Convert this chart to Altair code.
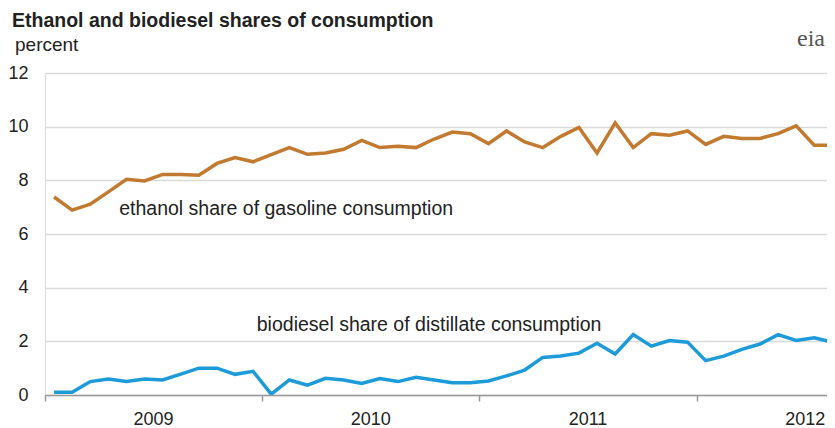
import altair as alt
import pandas as pd

# Monthly data, Jan 2009 - Aug 2012
months = pd.date_range("2009-01-01", periods=44, freq="MS").strftime("%Y-%m").tolist()

ethanol = [7.38, 6.89, 7.11, 7.57, 8.04, 7.98, 8.22, 8.22, 8.19, 8.63, 8.85, 8.69,
           8.96, 9.22, 8.97, 9.02, 9.16, 9.49, 9.22, 9.27, 9.22, 9.54, 9.80, 9.74,
           9.37, 9.84, 9.43, 9.22, 9.64, 9.97, 9.02, 10.14, 9.22, 9.74, 9.68, 9.84,
           9.34, 9.64, 9.56, 9.56, 9.74, 10.03, 9.31, 9.31]

biodiesel = [0.10, 0.10, 0.50, 0.60, 0.50, 0.60, 0.56, 0.78, 1.00, 1.00, 0.77, 0.88,
             0.03, 0.56, 0.37, 0.62, 0.56, 0.43, 0.61, 0.50, 0.66, 0.56, 0.46, 0.46,
             0.52, 0.71, 0.93, 1.40, 1.45, 1.56, 1.93, 1.53, 2.25, 1.82, 2.03, 1.97,
             1.28, 1.45, 1.70, 1.90, 2.25, 2.03, 2.13, 1.97]

years = ["2009", "2010", "2011", "2012"]
y_ticks = [0, 2, 4, 6, 8, 10, 12]

title_text = "Ethanol and biodiesel shares of consumption"
unit_text = "percent"
label_ethanol = "ethanol share  of gasoline consumption"
label_biodiesel = "biodiesel share of distillate consumption"

ETH_COLOR = "#C27A31"
BIO_COLOR = "#1C9BD8"
TEXT_COLOR = "#222222"
FONT = "Liberation Sans"

W = 782
H = 322
PX_PER_MONTH = 18.1

rows = []
for i, m in enumerate(months):
    rows.append({"month": m, "t": i + 0.5, "v": ethanol[i], "series": "ethanol"})
    rows.append({"month": m, "t": i + 0.5, "v": biodiesel[i], "series": "biodiesel"})
df = pd.DataFrame(rows)

x_scale = alt.Scale(domain=[0, W / PX_PER_MONTH], nice=False, zero=False)
y_scale = alt.Scale(domain=[0, 12], nice=False)

base = alt.Chart(df)

lines = base.mark_line(strokeWidth=3.5, clip=True, strokeJoin="miter").encode(
    x=alt.X("t:Q", scale=x_scale,
            axis=alt.Axis(values=[0, 12, 24, 36], labels=False, ticks=True, tickSize=6,
                          tickColor="#999999", domainColor="#999999", domainWidth=1.5,
                          tickWidth=1.5, grid=False, title=None)),
    y=alt.Y("v:Q", scale=y_scale,
            axis=alt.Axis(values=y_ticks, grid=True, gridColor="#DADADA", gridWidth=1.5,
                          domain=False, ticks=False, labelPadding=17, labelFontSize=18,
                          labelColor=TEXT_COLOR, labelFont=FONT, title=None)),
    color=alt.Color("series:N",
                    scale=alt.Scale(domain=["ethanol", "biodiesel"], range=[ETH_COLOR, BIO_COLOR]),
                    legend=None),
)

year_df = pd.DataFrame({"t": [6, 18, 30, 42], "label": years})
year_text = alt.Chart(year_df).mark_text(
    fontSize=18, font=FONT, color=TEXT_COLOR, baseline="middle", align="center"
).encode(x=alt.X("t:Q", scale=x_scale), y=alt.value(H + 25), text="label:N")

ann_df = pd.DataFrame({
    "t": [4.1, 11.7],
    "v": [6.95, 2.6],
    "label": [label_ethanol, label_biodiesel],
})
ann = alt.Chart(ann_df).mark_text(
    fontSize=19.5, font=FONT, color=TEXT_COLOR, baseline="middle", align="left"
).encode(x=alt.X("t:Q", scale=x_scale), y=alt.Y("v:Q", scale=y_scale), text="label:N")

title_df = pd.DataFrame({"label": [title_text]})
title = alt.Chart(title_df).mark_text(
    fontSize=19.5, font=FONT, fontWeight="bold", color=TEXT_COLOR, baseline="alphabetic", align="left"
).encode(x=alt.value(-33), y=alt.value(-46), text="label:N")

unit_df = pd.DataFrame({"label": [unit_text]})
unit = alt.Chart(unit_df).mark_text(
    fontSize=19, font=FONT, color=TEXT_COLOR, baseline="alphabetic", align="left"
).encode(x=alt.value(-30), y=alt.value(-22), text="label:N")

logo_df = pd.DataFrame({"label": ["eia"]})
logo = alt.Chart(logo_df).mark_text(
    fontSize=24, font="Liberation Serif", color="#555555", baseline="alphabetic", align="right"
).encode(x=alt.value(W - 2), y=alt.value(-27), text="label:N")

chart = alt.layer(lines, year_text, ann, title, unit, logo).properties(
    width=W, height=H,
    autosize=alt.AutoSizeParams(type="none"),
    padding={"left": 37, "top": 65, "right": 0, "bottom": 33},
).configure_view(stroke=None).configure(background="white")

chart.save("out.html", embed_options={"renderer": "svg", "actions": False})
